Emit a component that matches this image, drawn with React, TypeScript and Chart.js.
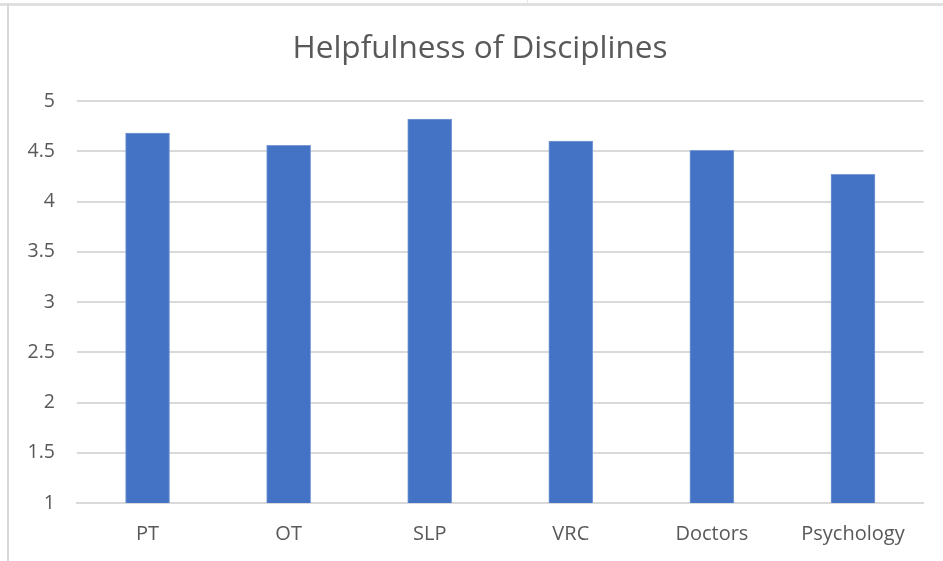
import React, { useEffect, useRef } from "react";
import { Chart, registerables } from "chart.js";

Chart.register(...registerables);

const categories = ["PT", "OT", "SLP", "VRC", "Doctors", "Psychology"];
const values = [4.68, 4.56, 4.82, 4.6, 4.51, 4.27];
const chartTitle = "Helpfulness of Disciplines";
const yMin = 1;
const yMax = 5;
const yStep = 0.5;

const FONT = "'Open Sans', 'Noto Sans', sans-serif";
const TEXT = "#595959";
const GRID = "#d9d9d9";

// Title centred over the whole chart frame (frame starts 8px left of the canvas edge and runs past the crop on the right)
const frameTitle = {
  id: "frameTitle",
  afterDraw(chart: any) {
    const ctx = chart.ctx;
    ctx.save();
    ctx.font = `normal 31.5px ${FONT}`;
    ctx.fillStyle = TEXT;
    ctx.textAlign = "center";
    ctx.textBaseline = "middle";
    ctx.fillText(chartTitle, chart.width / 2 + 8.5, 49);
    ctx.restore();
  },
};

export default function App() {
  const ref = useRef<HTMLCanvasElement | null>(null);

  useEffect(() => {
    if (!ref.current) return;
    const chart = new Chart(ref.current, {
      type: "bar",
      data: {
        labels: categories,
        datasets: [
          {
            label: chartTitle,
            data: values,
            backgroundColor: "#4472c4",
            borderColor: "#7a9bd6",
            borderWidth: 1,
            barThickness: 44,
          },
        ],
      },
      plugins: [frameTitle],
      options: {
        responsive: false,
        animation: false,
        layout: { padding: { left: 0, right: 19.5, top: 101, bottom: 0 } },
        plugins: {
          legend: { display: false },
          tooltip: { enabled: false },
          title: { display: false },
        },
        scales: {
          x: {
            grid: { display: false, drawTicks: false },
            border: { display: true, color: GRID, width: 2 },
            ticks: {
              color: TEXT,
              font: { family: FONT, size: 20 },
              padding: 19,
              maxRotation: 0,
            },
            afterFit: (s: any) => {
              s.height = 58;
            },
          },
          y: {
            min: yMin,
            max: yMax,
            grid: { color: GRID, lineWidth: 2, drawTicks: false },
            border: { display: false },
            ticks: {
              stepSize: yStep,
              color: TEXT,
              font: { family: FONT, size: 19.5 },
              padding: 22,
              callback: (v: any) => String(Number(v)),
            },
            afterFit: (s: any) => {
              s.width = 77;
            },
          },
        },
      },
    });
    return () => chart.destroy();
  }, []);

  return (
    <div
      style={{
        position: "fixed",
        left: 0,
        top: 0,
        width: 943,
        height: 561,
        background: "#fff",
        overflow: "hidden",
      }}
    >
      <canvas ref={ref} width={943} height={561} style={{ display: "block" }} />
      <div style={{ position: "absolute", left: 0, top: 3, width: 943, height: 3, background: "#e0e0e0" }} />
      <div style={{ position: "absolute", left: 527, top: 0, width: 1, height: 3, background: "#e6e6e6" }} />
      <div style={{ position: "absolute", left: 7, top: 3, width: 2, height: 558, background: "#d9d9d9" }} />
    </div>
  );
}
